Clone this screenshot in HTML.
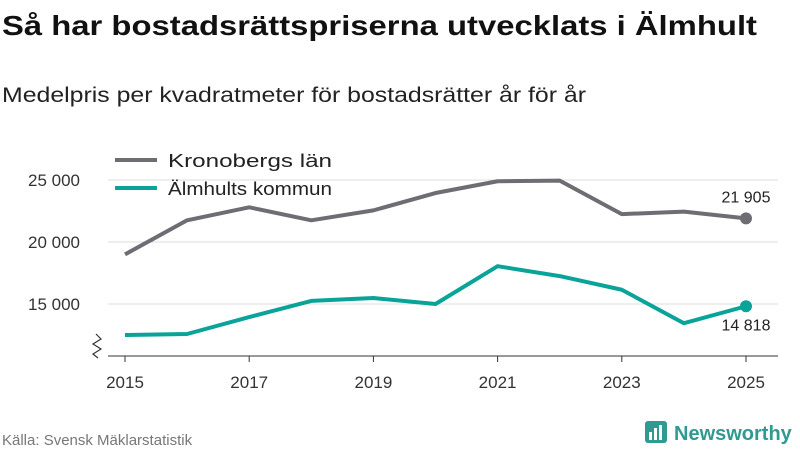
<!DOCTYPE html>
<html><head><meta charset="utf-8">
<style>
html,body{margin:0;padding:0;background:#fff;}
svg{display:block;font-family:"Liberation Sans","DejaVu Sans",sans-serif;}
</style></head>
<body>
<svg id="chart" width="800" height="450" viewBox="0 0 800 450">
<text x="2" y="35" font-size="28" font-weight="bold" fill="#111" textLength="755" lengthAdjust="spacingAndGlyphs">Så har bostadsrättspriserna utvecklats i Älmhult</text>
<text x="2" y="102" font-size="21" fill="#222" textLength="584" lengthAdjust="spacingAndGlyphs">Medelpris per kvadratmeter för bostadsrätter år för år</text>
<g id="grid"></g>
<g id="axes"></g>
<g id="series"></g>
<g>
<line x1="115" y1="160" x2="157" y2="160" stroke="#6e6d73" stroke-width="4"/>
<text x="168" y="167" font-size="18" fill="#222" textLength="164" lengthAdjust="spacingAndGlyphs">Kronobergs län</text>
<line x1="115" y1="188" x2="157" y2="188" stroke="#0aa39a" stroke-width="4"/>
<text x="168" y="195" font-size="18" fill="#222" textLength="164" lengthAdjust="spacingAndGlyphs">Älmhults kommun</text>
</g>
<text x="2" y="445" font-size="15" fill="#777">Källa: Svensk Mäklarstatistik</text>
<g>
<rect x="645" y="421" width="22" height="22" rx="3" fill="#2f9a90"/>
<rect x="649" y="432" width="3" height="8" fill="#fff"/><rect x="654" y="428" width="3" height="12" fill="#fff"/><rect x="659" y="425" width="3" height="15" fill="#fff"/>
<text x="674" y="440" font-size="20" font-weight="bold" fill="#2f9a90">Newsworthy</text>
</g>
</svg>
<script>
const years=[2015,2016,2017,2018,2019,2020,2021,2022,2023,2024,2025];
const kronoberg=[19000,21750,22800,21750,22550,23950,24900,24950,22250,22450,21905];
const almhult=[12500,12580,13950,15250,15480,15000,18050,17250,16150,13450,14818];
const yTicks=[15000,20000,25000];
const yTickLabels=["15 000","20 000","25 000"];
const xTicks=[2015,2017,2019,2021,2023,2025];
const NS="http://www.w3.org/2000/svg";
const xs=v=>125+(v-2015)*(746-125)/10;
const ys=v=>180-(v-25000)*(304-180)/10000;
function mk(tag,attrs,parent){const e=document.createElementNS(NS,tag);for(const k in attrs)e.setAttribute(k,attrs[k]);parent.appendChild(e);return e;}
const grid=document.getElementById('grid'),axes=document.getElementById('axes'),ser=document.getElementById('series');
yTicks.forEach((t,i)=>{
 const l=mk('line',{x1:108,x2:778,y1:ys(t),y2:ys(t),stroke:'#ddd','stroke-width':1},grid);
 
 
 const tx=mk('text',{x:80,y:ys(t)+6,'font-size':17,fill:'#333','text-anchor':'end'},axes);
 tx.textContent=yTickLabels[i];
 
 
});
const base=mk('line',{x1:108,x2:778,y1:356,y2:356,stroke:'#333','stroke-width':1},axes);


const sq=mk('path',{d:'M96 334 L101 339 L93 344 L101 349 L93 354 L98 358',fill:'none',stroke:'#333','stroke-width':1.2},axes);


xTicks.forEach(t=>{
 const tk=mk('line',{x1:xs(t),x2:xs(t),y1:356,y2:362,stroke:'#333'},axes);
 
 
 const tx=mk('text',{x:xs(t),y:388,'font-size':17,fill:'#333','text-anchor':'middle'},axes);
 tx.textContent=t;
 
 
});
function line(data,color,name){
 const p=mk('path',{d:data.map((v,i)=>(i?'L':'M')+xs(years[i])+' '+ys(v)).join(' '),fill:'none',stroke:color,'stroke-width':4,'stroke-linejoin':'round'},ser);
 
 
 const n=data.length-1;
 const c=mk('circle',{cx:xs(years[n]),cy:ys(data[n]),r:6,fill:color},ser);
 
 
}
line(kronoberg,'#6e6d73','kronoberg');
line(almhult,'#0aa39a','almhult');
const fmt=v=>String(Math.round(v)).replace(/\B(?=(\d{3})+$)/g,' ');
const l1=mk('text',{x:xs(2025),y:ys(kronoberg[10])-16,'font-size':16,fill:'#222','text-anchor':'middle'},ser);
l1.textContent=fmt(kronoberg[10]);


const l2=mk('text',{x:xs(2025),y:ys(almhult[10])+24,'font-size':16,fill:'#222','text-anchor':'middle'},ser);
l2.textContent=fmt(almhult[10]);


</script>
</body></html>
